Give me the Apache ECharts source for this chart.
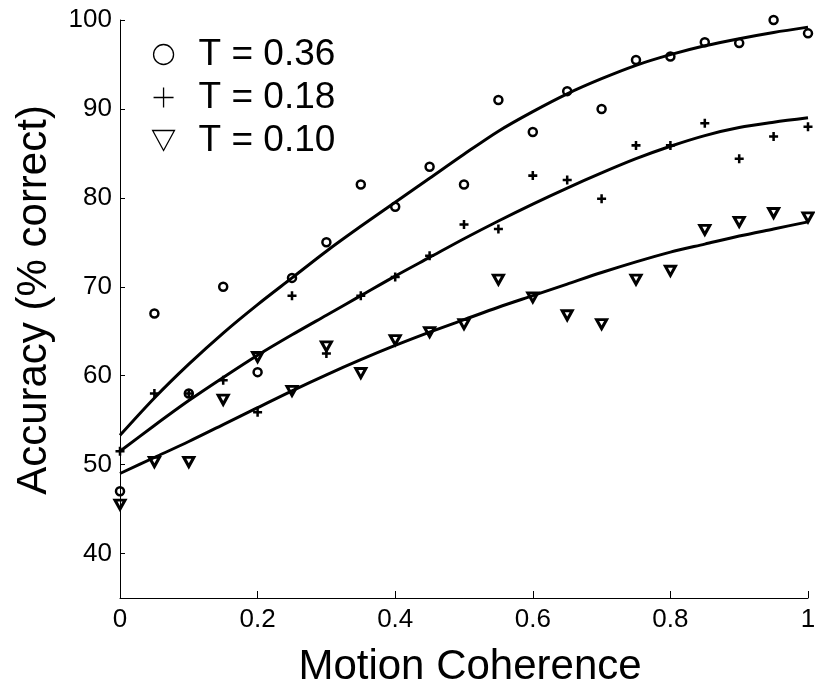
<!DOCTYPE html>
<html>
<head>
<meta charset="utf-8">
<script src="https://cdn.jsdelivr.net/npm/echarts@6/dist/echarts.min.js"></script>
<style>
  html, body { margin: 0; padding: 0; background: #fff; }
  #chart { width: 815px; height: 691px; }
</style>
</head>
<body>
<div id="chart"></div>
<script>
// Motion coherence levels (x)
const coherence = [0, 0.05, 0.1, 0.15, 0.2, 0.25, 0.3, 0.35, 0.4, 0.45, 0.5,
                   0.55, 0.6, 0.65, 0.7, 0.75, 0.8, 0.85, 0.9, 0.95, 1];

// Measured accuracy (% correct) for each duration T
const accT036 = [47.0, 67.0, 58.0, 70.0, 60.4, 71.0, 75.0, 81.5, 79.0, 83.5, 81.5,
                 91.0, 87.4, 92.0, 90.0, 95.5, 95.9, 97.5, 97.4, 100.0, 98.5];
const accT018 = [51.5, 58.0, 58.0, 59.5, 55.9, 69.0, 62.5, 69.0, 71.1, 73.5, 77.0,
                 76.5, 82.5, 82.0, 79.9, 85.9, 85.9, 88.4, 84.4, 86.9, 88.0];
const accT010 = [45.5, 50.3, 50.3, 57.3, 62.1, 58.3, 63.3, 60.3, 64.0, 64.9, 65.8,
                 70.8, 68.8, 66.8, 65.8, 70.8, 71.8, 76.4, 77.3, 78.3, 77.8];

// Fitted curves
const fitT036 = [53.3, 57.5, 61.3, 64.8, 68.0, 71.0, 74.0, 76.8, 79.5, 82.2, 84.9,
                 87.5, 89.7, 91.7, 93.4, 94.9, 96.1, 97.1, 97.9, 98.6, 99.2];
const fitT018 = [51.5, 54.4, 57.2, 59.8, 62.3, 64.6, 66.8, 69.0, 71.2, 73.3, 75.4,
                 77.4, 79.3, 81.1, 82.8, 84.4, 85.8, 87.0, 87.9, 88.5, 89.0];
const fitT010 = [49.0, 50.8, 52.6, 54.5, 56.4, 58.3, 60.1, 61.8, 63.4, 64.9, 66.3,
                 67.7, 69.0, 70.3, 71.6, 72.8, 73.9, 74.8, 75.7, 76.5, 77.3];

// Axis ticks
const xTicks = [0, 0.2, 0.4, 0.6, 0.8, 1];
const yTicks = [40, 50, 60, 70, 80, 90, 100];

const seriesNames = ['T = 0.36', 'T = 0.18', 'T = 0.10'];

const FONT = "'Liberation Sans', Arial, Helvetica, sans-serif";
const PLUS = 'path://M-1.4,-5L1.4,-5L1.4,-1.4L5,-1.4L5,1.4L1.4,1.4L1.4,5L-1.4,5L-1.4,1.4L-5,1.4L-5,-1.4L-1.4,-1.4Z';
const TRI_DOWN = 'path://M0,0L12,0L6,11Z';
const PLUS_THIN = 'path://M0,10L20,10M10,0L10,20';

function pairs(xs, ys) {
  return xs.map((x, i) => [x, ys[i]]);
}

function fitLine(name, ys) {
  return {
    name: name,
    type: 'line',
    data: pairs(coherence, ys),
    smooth: 0.3,
    symbol: 'none',
    silent: true,
    z: 1,
    lineStyle: { color: '#000', width: 3 }
  };
}

const chart = echarts.init(document.getElementById('chart'), null, { renderer: 'canvas' });

chart.setOption({
  animation: false,
  backgroundColor: '#fff',
  grid: { left: 120, right: 7, top: 20, bottom: 93, containLabel: false, outerBoundsMode: 'none' },
  legend: {
    orient: 'vertical',
    left: 147,
    top: 31,
    itemWidth: 60,
    itemHeight: 20,
    itemGap: 6,
    selectedMode: false,
    textStyle: { fontFamily: FONT, fontSize: 37, color: '#000', lineHeight: 37 },
    data: [
      { name: seriesNames[0], icon: 'circle',
        itemStyle: { color: 'rgba(0,0,0,0)', borderColor: '#000', borderWidth: 1.3 } },
      { name: seriesNames[1], icon: PLUS_THIN,
        itemStyle: { color: 'rgba(0,0,0,0)', borderColor: '#000', borderWidth: 1.3 } },
      { name: seriesNames[2], icon: TRI_DOWN,
        itemStyle: { color: 'rgba(0,0,0,0)', borderColor: '#000', borderWidth: 1.3 } }
    ]
  },
  xAxis: {
    type: 'value',
    min: 0,
    max: 1,
    interval: 0.2,
    name: 'Motion Coherence',
    nameLocation: 'middle',
    nameGap: 48,
    nameTextStyle: { fontFamily: FONT, fontSize: 42, color: '#000', padding: [0, 0, 0, 12] },
    axisLine: { show: true, onZero: false, lineStyle: { color: '#000', width: 1 } },
    axisTick: { show: true, inside: true, length: 7, customValues: xTicks,
                lineStyle: { color: '#000', width: 1 } },
    axisLabel: { fontFamily: FONT, fontSize: 26, color: '#000', margin: 9, customValues: xTicks },
    splitLine: { show: false }
  },
  yAxis: {
    type: 'value',
    min: 35,
    max: 100,
    name: 'Accuracy (% correct)',
    nameLocation: 'middle',
    nameRotate: 90,
    nameGap: 65,
    nameTextStyle: { fontFamily: FONT, fontSize: 42, color: '#000', padding: [0, 0, 0, 18] },
    axisLine: { show: true, onZero: false, lineStyle: { color: '#000', width: 1 } },
    axisTick: { show: true, inside: true, length: 5, customValues: yTicks,
                lineStyle: { color: '#000', width: 1 } },
    axisLabel: { fontFamily: FONT, fontSize: 26, color: '#000', margin: 8, customValues: yTicks },
    splitLine: { show: false }
  },
  series: [
    fitLine('fit 0.36', fitT036),
    fitLine('fit 0.18', fitT018),
    fitLine('fit 0.10', fitT010),
    {
      name: seriesNames[0],
      type: 'scatter',
      data: pairs(coherence, accT036),
      symbol: 'circle',
      symbolSize: 8,
      z: 3,
      itemStyle: { color: 'rgba(0,0,0,0)', borderColor: '#000', borderWidth: 2.5, opacity: 1 }
    },
    {
      name: seriesNames[1],
      type: 'scatter',
      data: pairs(coherence, accT018),
      symbol: PLUS,
      symbolSize: 9,
      z: 3,
      itemStyle: { color: '#000', opacity: 1 }
    },
    {
      name: seriesNames[2],
      type: 'scatter',
      data: pairs(coherence, accT010),
      symbol: TRI_DOWN,
      symbolSize: [10, 9],
      z: 3,
      itemStyle: { color: 'rgba(0,0,0,0)', borderColor: '#000', borderWidth: 3, opacity: 1 }
    }
  ]
});
</script>
</body>
</html>
